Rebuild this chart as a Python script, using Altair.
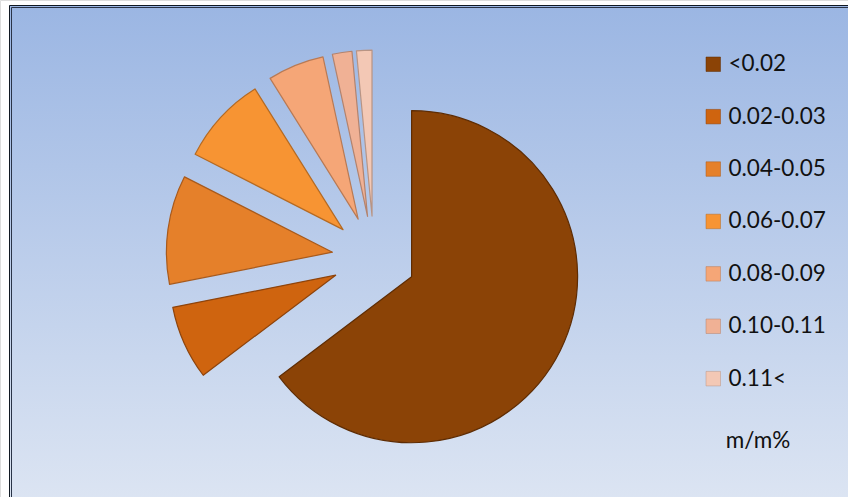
import altair as alt
import pandas as pd

categories = ["<0.02", "0.02-0.03", "0.04-0.05", "0.06-0.07", "0.08-0.09", "0.10-0.11", "0.11<"]
values = [64.7, 7.2, 10.6, 8.6, 5.5, 1.9, 1.5]
fill_colors = ["#8B4306", "#CF640F", "#E5802A", "#F79433", "#F5A677", "#F0B195", "#F3C8B5"]
edge_colors = ["#5E2C03", "#8E430A", "#A85A1C", "#B56A22", "#B87A55", "#B3836E", "#B89484"]

W, H = 848, 497
CX, CY = 374, 258      # pie centre (px)
R = 166                # pie radius
EXPLODE = 42           # explosion distance

df = pd.DataFrame({"cat": categories, "value": values, "order": list(range(len(categories)))})

bg = alt.Chart(alt.Data(values=[{}])).mark_rect(
    fill=alt.Gradient(gradient="linear", x1=0, y1=0, x2=0, y2=1,
                      stops=[alt.GradientStop(color="#9BB6E3", offset=0),
                             alt.GradientStop(color="#DEE6F3", offset=1)]),
    stroke="#101822", strokeWidth=1,
).encode(x=alt.value(9.5), x2=alt.value(W + 20), y=alt.value(5.5), y2=alt.value(H + 20))

inner = alt.Chart(alt.Data(values=[{}])).mark_rect(
    fill="transparent", stroke="#2A3448", strokeWidth=1,
).encode(x=alt.value(11.5), x2=alt.value(W + 20), y=alt.value(7.5), y2=alt.value(H + 20))

pie = alt.Chart(df).transform_joinaggregate(
    total="sum(value)"
).transform_window(
    cum="sum(value)", sort=[alt.SortField("order")], frame=[None, 0]
).transform_calculate(
    start="2*PI*(datum.cum - datum.value)/datum.total",
    end="2*PI*datum.cum/datum.total",
).transform_calculate(
    mid="(datum.start + datum.end)/2"
).transform_calculate(
    cx=f"{CX} + {EXPLODE}*sin(datum.mid)",
    cy=f"{CY} - {EXPLODE}*cos(datum.mid)",
).mark_arc(radius=R, strokeWidth=1.2, strokeJoin="round").encode(
    theta=alt.Theta("start:Q", scale=None),
    theta2="end:Q",
    x=alt.X("cx:Q", scale=None),
    y=alt.Y("cy:Q", scale=None),
    color=alt.Color("cat:N", scale=alt.Scale(domain=categories, range=fill_colors),
                    legend=alt.Legend(title=None, orient="none", legendX=702, legendY=53,
                                      symbolType="square", symbolSize=210,
                                      symbolStrokeColor="#5E2C03", symbolStrokeWidth=0.5,
                                      labelFont="Lato", labelFontSize=22.5, labelColor="#111111",
                                      labelOffset=4, rowPadding=29.4, padding=0,
                                      labelLimit=200)),
    stroke=alt.Stroke("cat:N", scale=alt.Scale(domain=categories, range=edge_colors), legend=None),
    order=alt.Order("order:Q"),
)

unit = alt.Chart(alt.Data(values=[{"t": "m/m%"}])).mark_text(
    font="Lato", fontSize=22.5, color="#111111", align="center", baseline="middle"
).encode(text="t:N", x=alt.value(758), y=alt.value(441))

chart = alt.layer(bg, inner, pie, unit).properties(
    width=W, height=H, autosize=alt.AutoSizeParams(type="none"), padding=0
).configure_view(stroke=None).configure(background="#FFFFFF")

chart.save("out.html", embed_options={"renderer": "svg", "actions": False})
